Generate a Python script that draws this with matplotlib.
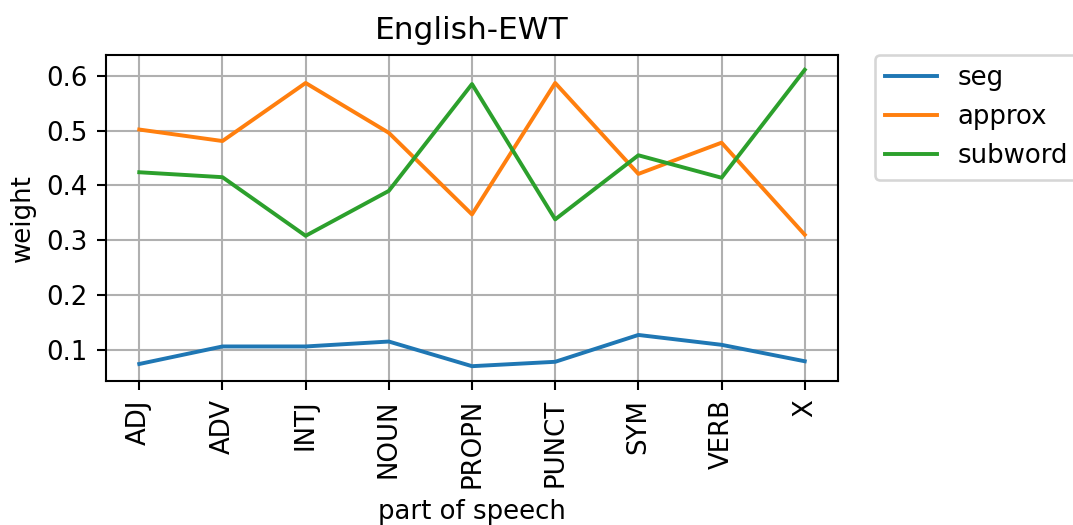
import matplotlib
matplotlib.use("Agg")
import matplotlib.pyplot as plt

pos_tags = ['ADJ', 'ADV', 'INTJ', 'NOUN', 'PROPN', 'PUNCT', 'SYM', 'VERB', 'X']
seg = [0.074, 0.106, 0.106, 0.115, 0.070, 0.078, 0.127, 0.109, 0.079]
approx = [0.502, 0.481, 0.587, 0.496, 0.347, 0.587, 0.421, 0.478, 0.310]
subword = [0.424, 0.415, 0.308, 0.390, 0.585, 0.338, 0.455, 0.414, 0.611]

dpi = 187.5
fig = plt.figure(figsize=(1073 / dpi, 525 / dpi), dpi=dpi)
ax = fig.add_axes([106 / 1073, 1 - 381 / 525, (838 - 106) / 1073, (381 - 55) / 525])

ax.plot(pos_tags, seg, label='seg')
ax.plot(pos_tags, approx, label='approx')
ax.plot(pos_tags, subword, label='subword')

ax.set_title('English-EWT')
ax.set_xlabel('part of speech')
ax.set_ylabel('weight')
ax.tick_params(axis='x', rotation=90)
ax.grid(True)
ax.legend(bbox_to_anchor=(1.05, 1), loc='upper left', borderaxespad=0.)

fig.savefig('out.png', dpi=dpi)
